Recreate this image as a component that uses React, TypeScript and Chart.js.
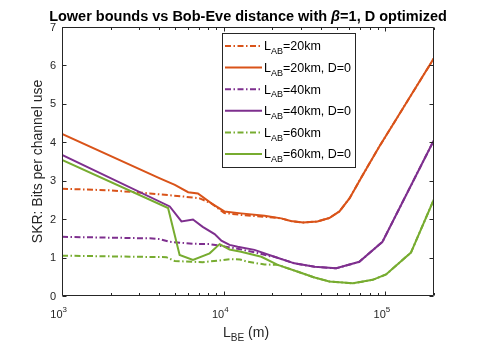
import React, { useEffect, useRef } from 'react';
import { Chart, registerables } from 'chart.js';

Chart.register(...registerables);

// ---------- data ----------
const X_MIN = 1000;
const X_MAX = 200000;
const Y_TICKS = [0, 1, 2, 3, 4, 5, 6, 7];
const X_TICK_EXPONENTS = [3, 4, 5];

const xLab20 = [1000, 2000, 3490, 5610, 7110, 8400, 10100, 12800, 17900, 22700, 26000, 31000, 38000, 45000, 52000, 60000, 72500, 91800, 116000, 147000, 200000];
const yLab20 = [2.79, 2.75, 2.67, 2.59, 2.54, 2.41, 2.16, 2.11, 2.06, 2.02, 1.95, 1.91, 1.94, 2.03, 2.2, 2.54, 3.15, 3.89, 4.58, 5.28, 6.19];

const xLab20D0 = [1000, 4030, 4990, 6030, 6930, 8400, 10100, 12800, 17900, 22700, 26000, 31000, 38000, 45000, 52000, 60000, 72500, 91800, 116000, 147000, 200000];
const yLab20D0 = [4.22, 3.06, 2.89, 2.7, 2.67, 2.41, 2.2, 2.15, 2.09, 2.02, 1.95, 1.91, 1.94, 2.03, 2.2, 2.54, 3.15, 3.89, 4.58, 5.28, 6.19];

const xLab40 = [1000, 3490, 4030, 4640, 6460, 8190, 10100, 12200, 15500, 19000, 20600, 27400, 36500, 49700, 69000, 96000, 200000];
const yLab40 = [1.54, 1.5, 1.48, 1.41, 1.36, 1.35, 1.29, 1.23, 1.14, 1.04, 1.02, 0.85, 0.76, 0.72, 0.89, 1.41, 4.06];

const xLab40D0 = [1000, 4640, 5480, 6460, 7420, 8790, 9680, 10870, 12200, 15500, 20600, 27400, 36500, 49700, 69000, 96000, 200000];
const yLab40D0 = [3.67, 2.33, 1.94, 1.99, 1.8, 1.61, 1.44, 1.33, 1.28, 1.2, 1.02, 0.85, 0.76, 0.72, 0.89, 1.41, 4.06];

const xLab60 = [1000, 4420, 4990, 6460, 7420, 9680, 11100, 12600, 14100, 17900, 21600, 28800, 36500, 45000, 63000, 83500, 101000, 144000, 200000];
const yLab60 = [1.05, 1.01, 0.91, 0.89, 0.88, 0.93, 0.96, 0.95, 0.89, 0.82, 0.81, 0.63, 0.48, 0.38, 0.33, 0.42, 0.56, 1.13, 2.52];

const xLab60D0 = [1000, 4530, 5340, 6460, 8190, 9440, 10870, 12800, 17100, 21600, 28800, 36500, 45000, 63000, 83500, 101000, 144000, 200000];
const yLab60D0 = [3.54, 2.29, 1.07, 0.94, 1.11, 1.35, 1.21, 1.15, 1.02, 0.81, 0.63, 0.48, 0.38, 0.33, 0.42, 0.56, 1.13, 2.52];

const seriesLabels = ['L_{AB}=20km', 'L_{AB}=20km, D=0', 'L_{AB}=40km', 'L_{AB}=40km, D=0', 'L_{AB}=60km', 'L_{AB}=60km, D=0'];
const TITLE_PARTS = ['Lower bounds vs Bob-Eve distance with ', 'β', '=1, D optimized'];
const X_LABEL = 'L_{BE} (m)';
const Y_LABEL = 'SKR: Bits per channel use';

// ---------- styles ----------
const ORANGE = '#D95319';
const PURPLE = '#7E2F8E';
const GREEN = '#77AC30';
const AXIS = '#262626';
const FONT = '"Liberation Sans", Arial, Helvetica, sans-serif';
const DASHDOT = [6, 2.5, 1.5, 2.5];

const seriesX = [xLab20, xLab20D0, xLab40, xLab40D0, xLab60, xLab60D0];
const seriesY = [yLab20, yLab20D0, yLab40, yLab40D0, yLab60, yLab60D0];
const seriesColor = [ORANGE, ORANGE, PURPLE, PURPLE, GREEN, GREEN];
const seriesDashed = [true, false, true, false, true, false];

type Seg = { t: string; font: string; dy: number };

function richSegs(s: string, size: number, weight = '', subScale = 0.72, subDy = 0.3, supDy = -0.5): Seg[] {
  const out: Seg[] = [];
  let buf = '';
  let i = 0;
  const main = `${weight} ${size}px ${FONT}`.trim();
  const small = `${weight} ${(size * subScale).toFixed(2)}px ${FONT}`.trim();
  while (i < s.length) {
    const c = s[i];
    if ((c === '_' || c === '^') && s[i + 1] === '{') {
      if (buf) { out.push({ t: buf, font: main, dy: 0 }); buf = ''; }
      const end = s.indexOf('}', i);
      out.push({ t: s.slice(i + 2, end), font: small, dy: c === '_' ? size * subDy : size * supDy });
      i = end + 1;
    } else { buf += c; i++; }
  }
  if (buf) out.push({ t: buf, font: main, dy: 0 });
  return out;
}

function drawSegs(ctx: CanvasRenderingContext2D, segs: Seg[], x: number, y: number, align: 'left' | 'center' | 'right', color: string) {
  ctx.save();
  ctx.textAlign = 'left';
  ctx.textBaseline = 'alphabetic';
  ctx.fillStyle = color;
  const widths = segs.map((s) => { ctx.font = s.font; return ctx.measureText(s.t).width; });
  const total = widths.reduce((a, b) => a + b, 0);
  let cx = align === 'left' ? x : align === 'center' ? x - total / 2 : x - total;
  segs.forEach((s, i) => {
    ctx.font = s.font;
    ctx.fillText(s.t, cx, y + s.dy);
    cx += widths[i];
  });
  ctx.restore();
}

const matlabPlugin = {
  id: 'matlabAxes',
  afterDatasetsDraw(chart: any) {
    const { ctx, chartArea: ca, scales } = chart;
    const xs = scales.x;
    const ys = scales.y;
    const L = Math.round(ca.left) + 0.5;
    const R = Math.round(ca.right) - 0.5;
    const T = Math.round(ca.top) + 0.5;
    const B = Math.round(ca.bottom) - 0.5;
    ctx.save();
    ctx.strokeStyle = AXIS;
    ctx.lineWidth = 1;
    ctx.setLineDash([]);
    ctx.beginPath();
    ctx.rect(L, T, R - L, B - T);
    for (let k = 3; k <= 5; k++) {
      for (let m = 1; m <= 9; m++) {
        const v = m * Math.pow(10, k);
        if (v < X_MIN || v > X_MAX) continue;
        const px = Math.round(xs.getPixelForValue(v)) + 0.5;
        const len = m === 1 ? 4 : 2.5;
        ctx.moveTo(px, B); ctx.lineTo(px, B - len);
        ctx.moveTo(px, T); ctx.lineTo(px, T + len);
      }
    }
    for (const t of Y_TICKS) {
      const py = Math.round(ys.getPixelForValue(t)) + 0.5;
      ctx.moveTo(L, py); ctx.lineTo(L + 4, py);
      ctx.moveTo(R, py); ctx.lineTo(R - 4, py);
    }
    ctx.stroke();

    // y tick labels
    ctx.fillStyle = AXIS;
    ctx.font = `11px ${FONT}`;
    ctx.textAlign = 'right';
    ctx.textBaseline = 'middle';
    for (const t of Y_TICKS) {
      ctx.fillText(String(t), ca.left - 6, ys.getPixelForValue(t) + 0.5);
    }
    ctx.restore();

    // x tick labels 10^k
    for (const k of X_TICK_EXPONENTS) {
      const px = xs.getPixelForValue(Math.pow(10, k));
      ctx.save();
      ctx.font = `11px ${FONT}`;
      const w10 = ctx.measureText('10').width;
      ctx.restore();
      drawSegs(ctx, richSegs(`10^{${k}}`, 11, '', 0.72, 0.3, -0.55), px - w10 + 0.5, ca.bottom + 22, 'left', AXIS);
    }

    // axis labels
    drawSegs(ctx, richSegs(X_LABEL, 14, '', 0.72, 0.3), (ca.left + ca.right) / 2 - 2, ca.bottom + 41, 'center', AXIS);
    ctx.save();
    ctx.translate(42, (ca.top + ca.bottom) / 2);
    ctx.rotate(-Math.PI / 2);
    drawSegs(ctx, [{ t: Y_LABEL, font: `14px ${FONT}`, dy: 0 }], 0, 0, 'center', AXIS);
    ctx.restore();

    // title
    const tf = `bold 14.5px ${FONT}`;
    drawSegs(ctx, [
      { t: TITLE_PARTS[0], font: tf, dy: 0 },
      { t: TITLE_PARTS[1], font: `italic ${tf}`, dy: 0 },
      { t: TITLE_PARTS[2], font: tf, dy: 0 },
    ], (ca.left + ca.right) / 2, 20.5, 'center', '#000');

    // legend
    const bx = 222.5, by = 33.5, bw = 133, bh = 134;
    ctx.save();
    ctx.fillStyle = '#fff';
    ctx.fillRect(bx, by, bw, bh);
    ctx.strokeStyle = AXIS;
    ctx.lineWidth = 1;
    ctx.strokeRect(bx, by, bw, bh);
    ctx.restore();
    seriesLabels.forEach((lab, i) => {
      const ry = 46 + i * 21.6;
      ctx.save();
      ctx.strokeStyle = seriesColor[i];
      ctx.lineWidth = 2;
      ctx.setLineDash(seriesDashed[i] ? DASHDOT : []);
      ctx.beginPath();
      ctx.moveTo(225, ry);
      ctx.lineTo(262, ry);
      ctx.stroke();
      ctx.restore();
      drawSegs(ctx, richSegs(lab, 12.5, '', 0.72, 0.3), 264, ry + 4.4, 'left', '#000');
    });
  },
};

export default function App() {
  const ref = useRef<HTMLCanvasElement>(null);
  useEffect(() => {
    const canvas = ref.current;
    if (!canvas) return;
    const datasets = seriesX.map((xs, i) => ({
      label: seriesLabels[i],
      data: xs.map((x, j) => ({ x, y: seriesY[i][j] })),
      borderColor: seriesColor[i],
      backgroundColor: seriesColor[i],
      borderWidth: 2,
      borderDash: seriesDashed[i] ? DASHDOT : [],
      pointRadius: 0,
      tension: 0,
      fill: false,
      order: 6 - i,
    }));
    const chart = new Chart(canvas, {
      type: 'line',
      data: { datasets },
      options: {
        responsive: false,
        animation: false,
        devicePixelRatio: 1,
        events: [],
        layout: { padding: { top: 27, right: 46, bottom: 0, left: 0 } },
        plugins: { legend: { display: false }, tooltip: { enabled: false }, title: { display: false } },
        scales: {
          x: {
            type: 'logarithmic', min: X_MIN, max: X_MAX,
            ticks: { display: false }, grid: { display: false, drawTicks: false }, border: { display: false },
            afterFit: (s: any) => { s.height = 53; },
          },
          y: {
            type: 'linear', min: 0, max: 7,
            ticks: { display: false, stepSize: 1 }, grid: { display: false, drawTicks: false }, border: { display: false },
            afterFit: (s: any) => { s.width = 62; },
          },
        },
      } as any,
      plugins: [matlabPlugin],
    });
    return () => chart.destroy();
  }, []);
  return (
    <div style={{ position: 'fixed', left: 0, top: 0, width: 480, height: 349, background: '#fff' }}>
      <canvas ref={ref} width={480} height={349} style={{ display: 'block', width: 480, height: 349 }} />
    </div>
  );
}
